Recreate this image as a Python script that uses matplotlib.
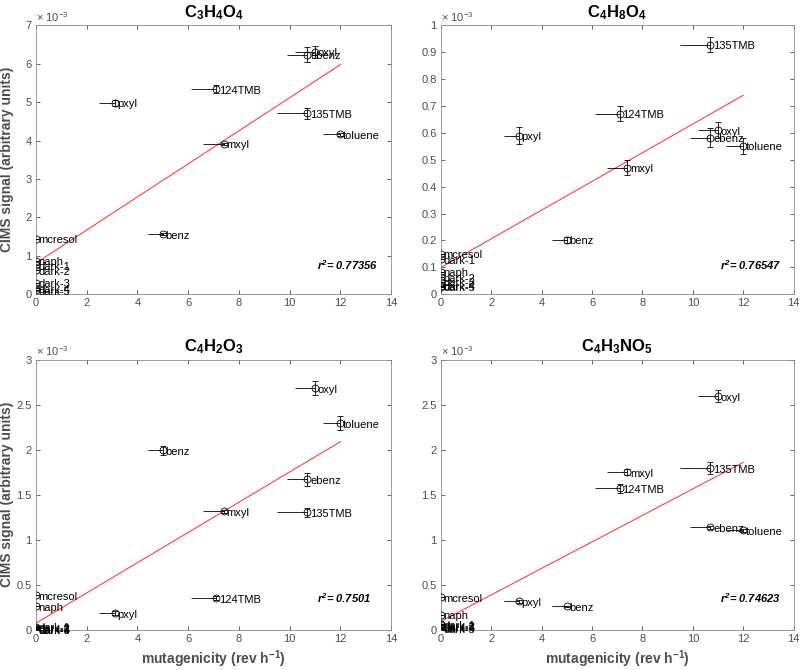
import matplotlib
matplotlib.use("Agg")
import matplotlib.pyplot as plt
from matplotlib.ticker import FuncFormatter
import numpy as np

plt.rcParams['font.family'] = ['Liberation Sans', 'DejaVu Sans']
plt.rcParams['mathtext.default'] = 'regular'

# Compounds (labels) and mutagenicity (rev h^-1)
labels = ["benz", "toluene", "ebenz", "oxyl", "mxyl", "pxyl", "124TMB", "135TMB",
          "naph", "mcresol", "dark-1", "dark-2", "dark-3", "dark-4", "dark-5"]
mutagenicity = [5.0, 12.0, 10.7, 11.0, 7.4, 3.1, 7.1, 10.7, 0, 0, 0, 0, 0, 0, 0]
mut_err_low = [0.6, 0.7, 0.8, 0.8, 0.8, 0.6, 1.0, 1.2, 0, 0, 0, 0, 0, 0, 0]

# CIMS signal (x 1e-3) per compound panel
titles = ["C$_3$H$_4$O$_4$", "C$_4$H$_8$O$_4$", "C$_4$H$_2$O$_3$", "C$_4$H$_3$NO$_5$"]
sig_C3H4O4 = [1.56, 4.16, 6.24, 6.31, 3.91, 4.98, 5.34, 4.71, 0.875, 1.44, 0.75, 0.62, 0.29, 0.15, 0.10]
err_C3H4O4 = [0.03, 0.05, 0.20, 0.15, 0.03, 0.08, 0.10, 0.15, 0, 0, 0, 0, 0, 0, 0]
sig_C4H8O4 = [0.202, 0.551, 0.582, 0.610, 0.471, 0.590, 0.672, 0.928, 0.084, 0.150, 0.130, 0.063, 0.047, 0.032, 0.027]
err_C4H8O4 = [0.010, 0.030, 0.035, 0.030, 0.027, 0.033, 0.028, 0.028, 0, 0, 0, 0, 0, 0, 0]
sig_C4H2O3 = [1.996, 2.296, 1.670, 2.685, 1.315, 0.185, 0.352, 1.307, 0.26, 0.385, 0.03, 0.02, 0.012, 0.006, 0.003]
err_C4H2O3 = [0.05, 0.08, 0.07, 0.08, 0.02, 0.02, 0.02, 0.05, 0, 0, 0, 0, 0, 0, 0]
sig_C4H3NO5 = [0.259, 1.104, 1.137, 2.596, 1.752, 0.315, 1.574, 1.796, 0.167, 0.363, 0.06, 0.05, 0.03, 0.02, 0.01]
err_C4H3NO5 = [0.01, 0.02, 0.02, 0.07, 0.03, 0.02, 0.05, 0.07, 0, 0, 0, 0, 0, 0, 0]

# Fit line endpoints (x=0, x=12) and r^2
fit_x = [0, 12]
fit_C3H4O4 = [0.81, 5.98]
fit_C4H8O4 = [0.099, 0.740]
fit_C4H2O3 = [0.074, 2.09]
fit_C4H3NO5 = [0.093, 1.86]
r2_values = ["0.77356", "0.76547", "0.7501", "0.74623"]

ylims = [7, 1, 3, 3]
yticks = [np.arange(0, 8, 1), np.arange(0, 1.01, 0.1), np.arange(0, 3.01, 0.5), np.arange(0, 3.01, 0.5)]
signals = [sig_C3H4O4, sig_C4H8O4, sig_C4H2O3, sig_C4H3NO5]
errors = [err_C3H4O4, err_C4H8O4, err_C4H2O3, err_C4H3NO5]
fits = [fit_C3H4O4, fit_C4H8O4, fit_C4H2O3, fit_C4H3NO5]
r2_ypos = [0.108, 0.108, 0.118, 0.118]

fig = plt.figure(figsize=(8, 6.7), dpi=100)
positions = [[0.045, 0.561, 0.444, 0.401], [0.551, 0.561, 0.441, 0.401],
             [0.045, 0.060, 0.444, 0.403], [0.551, 0.060, 0.441, 0.403]]

tickgray = '#4d4d4d'
for i in range(4):
    ax = fig.add_axes(positions[i])
    x = np.array(mutagenicity)
    y = np.array(signals[i])
    ax.plot(fit_x, fits[i], color='#ff4040', lw=0.8, zorder=2)
    ax.errorbar(x, y, xerr=[mut_err_low, np.zeros(len(x))], fmt='none',
                ecolor='black', elinewidth=0.6, capsize=0, zorder=3)
    ax.errorbar(x, y, yerr=errors[i], fmt='o', mfc='none', mec='black', ms=5,
                mew=0.6, ecolor='black', elinewidth=0.6, capsize=2, capthick=0.6, zorder=4)
    for lab, xx, yy in zip(labels, x, y):
        ax.annotate(lab, (xx, yy), xytext=(2, -1), textcoords='offset points',
                    ha='left', va='center', fontsize=8, color='black', zorder=5)
    ax.set_xlim(0, 14)
    ax.set_ylim(0, ylims[i])
    ax.set_xticks(np.arange(0, 15, 2))
    ax.set_yticks(yticks[i])
    ax.yaxis.set_major_formatter(FuncFormatter(lambda v, p: '%g' % round(v, 3)))
    ax.tick_params(direction='in', length=3, width=0.6, colors=tickgray, labelsize=8,
                   top=True, right=True, pad=3)
    for s in ax.spines.values():
        s.set_color('#8c8c8c')
        s.set_linewidth(0.6)
    ax.set_title(titles[i], fontsize=12, fontweight='bold', pad=6)
    ax.text(0.0, 1.005, '× 10$^{-3}$', transform=ax.transAxes, ha='left', va='bottom',
            fontsize=8, color=tickgray)
    ax.text(0.79, r2_ypos[i], '$r^2$= ' + r2_values[i], transform=ax.transAxes, ha='left',
            va='center', fontsize=8, fontweight='bold', style='italic')
    if i % 2 == 0:
        ax.set_ylabel('CIMS signal (arbitrary units)', fontsize=10, fontweight='bold',
                      color=tickgray)
        ax.yaxis.set_label_coords(-0.062, 0.5)
    if i >= 2:
        ax.set_xlabel('mutagenicity (rev h$^{-1}$)', fontsize=10, fontweight='bold',
                      color=tickgray, labelpad=3)

fig.savefig('out.png', dpi=100)
